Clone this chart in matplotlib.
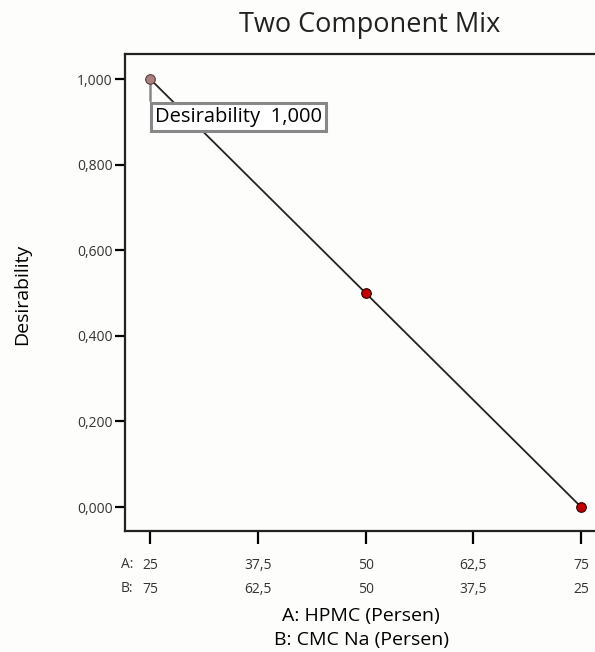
import matplotlib
matplotlib.use("Agg")
import matplotlib.pyplot as plt
from matplotlib.transforms import blended_transform_factory

# design points along the A/B mixture edge
hpmc = [25, 50, 75]
desirability = [1.0, 0.5, 0.0]
tick_a = [25, 37.5, 50, 62.5, 75]
tick_b = [75, 62.5, 50, 37.5, 25]
y_ticks = [0.0, 0.2, 0.4, 0.6, 0.8, 1.0]

def comma(v, fmt):
    return (fmt % v).replace(".", ",")

plt.rcParams["font.family"] = ["Open Sans", "DejaVu Sans"]
fig = plt.figure(figsize=(5.95, 6.52), dpi=100, facecolor="#fdfdfb")
ax = fig.add_axes([0.210, 0.1856, 0.80, 0.7315], facecolor="#fdfdfb")

ax.plot(hpmc, desirability, color="#222222", lw=1.3, zorder=2)
ax.scatter(hpmc[1:], desirability[1:], s=48, color="#c00000", edgecolor="#300000", lw=0.8, zorder=3)
ax.scatter(hpmc[:1], desirability[:1], s=48, color="#a88080", edgecolor="#5a3a3a", lw=0.8, zorder=3)

# flag for the optimum point, with its leader down to the box
ax.plot([hpmc[0], hpmc[0]], [desirability[0], 0.95], color="#888888", lw=1.8, zorder=2.5)
ax.text(25.59, 0.912, "Desirability  " + comma(desirability[0], "%.3f"), fontsize=14.5, color="black",
        ha="left", va="center", zorder=4,
        bbox=dict(boxstyle="square,pad=0.2", fc="white", ec="#888888", lw=2.2))

ax.set_xlim(22.07, 77.3)
ax.set_ylim(-0.056, 1.0585)
ax.set_xticks(tick_a)
ax.set_xticklabels([comma(a, "%g") + "\n" + comma(b, "%g") for a, b in zip(tick_a, tick_b)],
                   fontsize=10, color="#333333", linespacing=1.8)
# component prefixes to the left of the first tick label
tr = blended_transform_factory(ax.transData, fig.transFigure)
ax.text(23.0, (652 - 565) / 652, "A:", transform=tr, ha="right", va="center", fontsize=10, color="#333333")
ax.text(23.0, (652 - 589) / 652, "B:", transform=tr, ha="right", va="center", fontsize=10, color="#333333")

ax.set_yticks(y_ticks)
ax.set_yticklabels([comma(v, "%.3f") for v in y_ticks], fontsize=10, color="#333333")
ax.tick_params(axis="x", direction="out", length=9.5, width=1.6, pad=10)
ax.tick_params(axis="y", direction="out", length=7, width=1.6, pad=2)
for s in ax.spines.values():
    s.set_linewidth(1.6)
    s.set_color("#222222")

fig.text(22 / 595, (652 - 294) / 652, "Desirability", rotation=90, ha="center", va="center", fontsize=14)
fig.text(361 / 595, (652 - 628) / 652, "A: HPMC (Persen)\nB: CMC Na (Persen)", ha="center", va="center",
         fontsize=14, linespacing=1.4)
fig.text(370 / 595, (652 - 25) / 652, "Two Component Mix", ha="center", va="center", fontsize=19.5, color="#222222")

fig.savefig("out.png", dpi=100, facecolor=fig.get_facecolor())
